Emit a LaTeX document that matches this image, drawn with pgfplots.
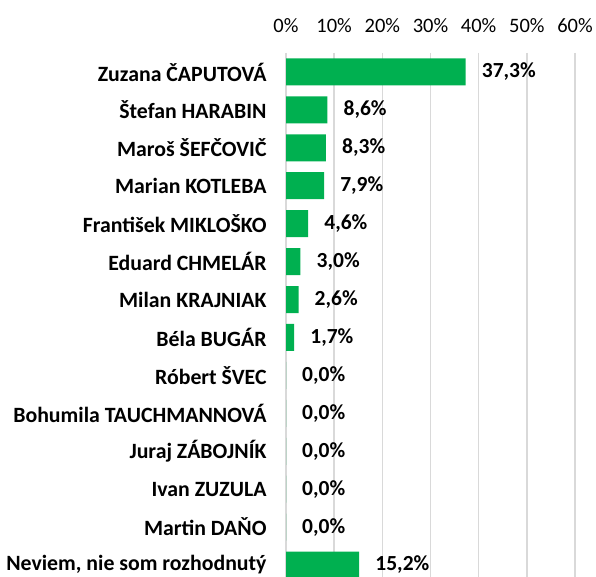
\documentclass[border=0pt]{standalone}
\usepackage{pgfplots}
\pgfplotsset{compat=1.18}
\usepackage{fontspec}
\setmainfont{Carlito}
\definecolor{barg}{HTML}{00B050}
\definecolor{gridc}{HTML}{D9D9D9}
\begin{document}
\begin{tikzpicture}[x=1pt,y=1pt]
\useasboundingbox (0,0) rectangle (596,577);
\begin{axis}[
 at={(286pt,524pt)}, anchor=north west,
 scale only axis, width=289pt, height=531pt,
 xmin=0, xmax=60, ymin=-0.5, ymax=13.5, y dir=reverse,
 xbar, bar width=27pt,
 xtick={0,10,20,30,40,50,60},
 xticklabels={0\%,10\%,20\%,30\%,40\%,50\%,60\%},
 xticklabel pos=upper,
 xticklabel style={font=\fontsize{20.5}{24}\selectfont, anchor=base, inner sep=0pt, yshift=20pt},
 ytick={0,...,13},
 yticklabels={Zuzana ČAPUTOVÁ, Štefan HARABIN, Maroš ŠEFČOVIČ, Marian KOTLEBA, František MIKLOŠKO, Eduard CHMELÁR, Milan KRAJNIAK, Béla BUGÁR, Róbert ŠVEC, Bohumila TAUCHMANNOVÁ, Juraj ZÁBOJNÍK, Ivan ZUZULA, Martin DAŇO, {Neviem, nie som rozhodnutý}},
 yticklabel style={font=\bfseries\fontsize{21.8}{24}\selectfont, anchor=east, inner sep=0pt, xshift=-15pt},
 grid=major, xmajorgrids=true, ymajorgrids=false,
 major grid style={draw=gridc, line width=1.5pt},
 axis line style={draw=none}, tick style={draw=none},
 nodes near coords={\pgfmathprintnumber[fixed,fixed zerofill,precision=1,use comma,assume math mode=true]{\pgfplotspointmeta}\%},
 point meta=x,
 nodes near coords style={font=\bfseries\fontsize{21.5}{24}\selectfont, anchor=west, inner sep=0pt, xshift=16pt},
 clip=false,
]
\addplot[fill=barg, draw=none] coordinates {(37.3,0) (8.6,1) (8.3,2) (7.9,3) (4.6,4) (3.0,5) (2.6,6) (1.7,7) (0,8) (0,9) (0,10) (0,11) (0,12) (15.2,13)};
\end{axis}
\end{tikzpicture}
\end{document}
